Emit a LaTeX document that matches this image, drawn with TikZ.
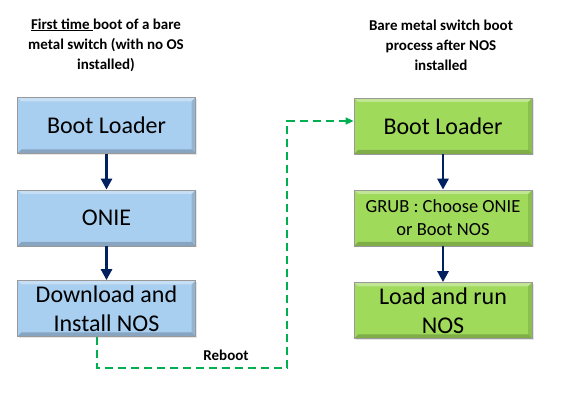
\documentclass[tikz,border=0pt]{standalone}
\usepackage{fontspec}
\setmainfont{Carlito}
\usetikzlibrary{arrows.meta, shadows}
\definecolor{bootblue}{HTML}{A9CFF0}
\definecolor{bootgreen}{HTML}{9FDA5B}
\definecolor{arrownavy}{HTML}{002060}
\definecolor{rebootgreen}{HTML}{00B050}

\tikzset{
	stage/.style={draw=black!40, line width=0.8pt, minimum width=178pt, minimum height=56pt,
		inner sep=0pt, align=center, font=\fontsize{24}{29}\selectfont,
		drop shadow={opacity=0.2, shadow xshift=1.5pt, shadow yshift=-1.5pt},
		path picture={
			\fill[white, opacity=0.35] (path picture bounding box.north west) -- (path picture bounding box.north east)
				-- ([xshift=-4pt,yshift=-4pt]path picture bounding box.north east) -- ([xshift=4pt,yshift=-4pt]path picture bounding box.north west) -- cycle;
			\fill[black, opacity=0.2] (path picture bounding box.south west) -- (path picture bounding box.south east)
				-- ([xshift=-4pt,yshift=4pt]path picture bounding box.south east) -- ([xshift=4pt,yshift=4pt]path picture bounding box.south west) -- cycle;
			\fill[black, opacity=0.12] (path picture bounding box.north east) -- (path picture bounding box.south east)
				-- ([xshift=-4pt,yshift=4pt]path picture bounding box.south east) -- ([xshift=-4pt,yshift=-4pt]path picture bounding box.north east) -- cycle;
		}},
	heading/.style={align=center, font=\bfseries\fontsize{15}{20}\selectfont},
	flow/.style={arrownavy, line width=2.8pt, -{Triangle[length=11pt,width=11pt]}},
}

\begin{document}
\begin{tikzpicture}[x=1pt, y=-1pt]
			\useasboundingbox (0,0) rectangle (582,401);

			\node [heading] (lefttitle) at (106,45) {\underline{First time\ }boot of a bare\\metal switch (with no OS\\installed)};
			\node [heading] (righttitle) at (441,45) {Bare metal switch boot\\process after NOS\\installed};

			\node [stage, fill=bootblue] (lboot) at (106.5,125.5) {Boot Loader};
			\node [stage, fill=bootblue] (onie) at (106.5,218) {ONIE};
			\node [stage, fill=bootblue] (install) at (106.5,308.5) {Download and\\Install NOS};

			\node [stage, fill=bootgreen] (rboot) at (443,126) {Boot Loader};
			\node [stage, fill=bootgreen, font=\fontsize{18.5}{23}\selectfont] (grub) at (443,218) {GRUB : Choose ONIE\\or Boot NOS};
			\node [stage, fill=bootgreen] (run) at (443,310.5) {Load and run\\NOS};

			\draw [flow] (lboot) to (onie);
			\draw [flow] (onie) to (install);
			\draw [flow] (rboot) to (grub);
			\draw [flow] (grub) to (run);

			\coordinate (turn) at (287,368);
			\draw [rebootgreen, line width=1.4pt, dash pattern=on 8pt off 5pt, -{Triangle[length=8pt,width=7pt]}]
				(install.south -| 97,0) |- (turn) |- ([yshift=5pt]rboot.west);
			\node [font=\bfseries\fontsize{15}{18}\selectfont] (reboot) at (226,355) {Reboot};
		\end{tikzpicture}
\end{document}
